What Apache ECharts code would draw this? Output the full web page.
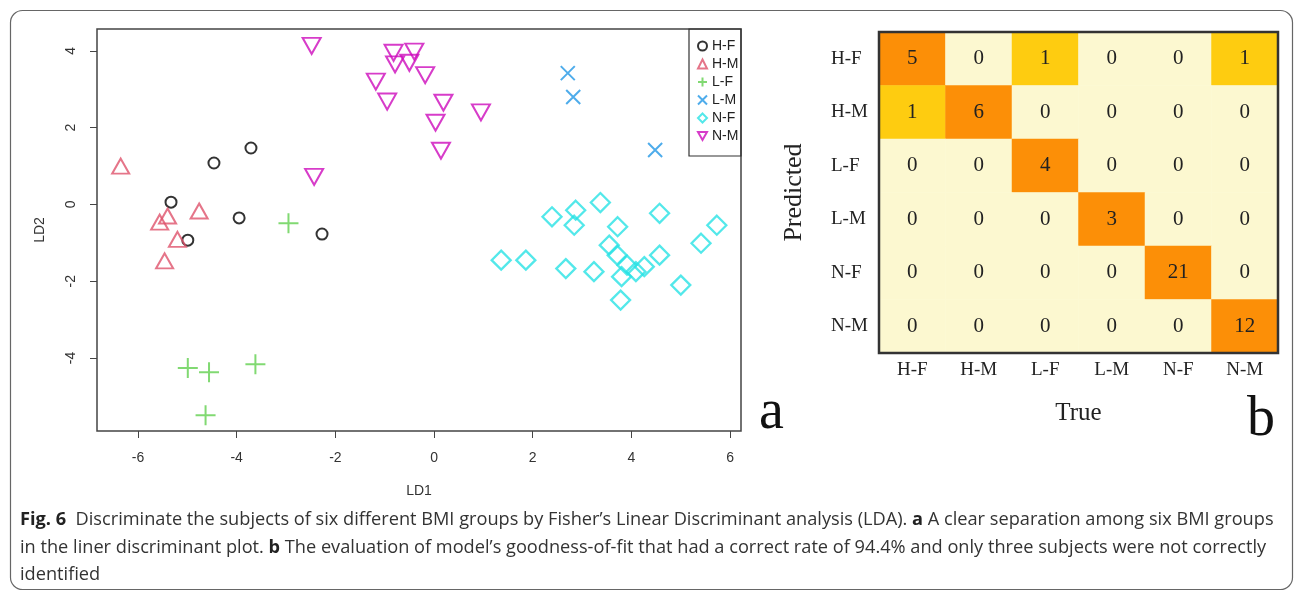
<!DOCTYPE html>
<html>
<head>
<meta charset="utf-8">
<script src="https://cdn.jsdelivr.net/npm/echarts@6/dist/echarts.min.js"></script>
<style>
  html, body { margin: 0; padding: 0; background: #fff; }
  #fig { width: 1295px; height: 599px; }
</style>
</head>
<body>
<div id="fig"></div>
<script>
// groups (BMI level - sex)
var groups = ['H-F', 'H-M', 'L-F', 'L-M', 'N-F', 'N-M'];

// LDA scores [LD1, LD2]
var hfPts = [[-3.71, 1.47], [-4.46, 1.08], [-5.33, 0.06], [-3.95, -0.35], [-4.99, -0.93], [-2.27, -0.77]];
var hmPts = [[-6.35, 1.00], [-4.76, -0.17], [-5.40, -0.30], [-5.56, -0.46], [-5.20, -0.91], [-5.46, -1.47]];
var lfPts = [[-2.95, -0.49], [-4.99, -4.26], [-4.56, -4.37], [-3.62, -4.16], [-4.63, -5.49]];
var lmPts = [[2.71, 3.42], [2.82, 2.80], [4.48, 1.42]];
var nfPts = [[1.36, -1.45], [1.86, -1.45], [2.39, -0.32], [2.87, -0.15], [2.84, -0.54], [3.37, 0.05],
             [3.72, -0.58], [4.57, -0.23], [5.73, -0.54], [5.41, -1.01], [3.55, -1.06], [3.71, -1.32],
             [4.57, -1.32], [3.91, -1.58], [4.26, -1.62], [4.09, -1.75], [3.80, -1.88], [2.67, -1.67],
             [3.24, -1.75], [5.00, -2.10], [3.78, -2.49]];
var nmPts = [[-2.48, 4.13], [-0.82, 3.95], [-0.40, 3.98], [-0.79, 3.65], [-0.50, 3.69], [-0.18, 3.37],
             [-1.18, 3.20], [-0.95, 2.68], [0.19, 2.65], [0.95, 2.40], [0.03, 2.13], [0.14, 1.40],
             [-2.43, 0.72]];

var ld1Ticks = [-6, -4, -2, 0, 2, 4, 6];
var ld2Ticks = [-4, -2, 0, 2, 4];

// panel b: rows = predicted, columns = true
var confusion = [
    [5, 0, 1, 0, 0, 1],
    [1, 6, 0, 0, 0, 0],
    [0, 0, 4, 0, 0, 0],
    [0, 0, 0, 3, 0, 0],
    [0, 0, 0, 0, 21, 0],
    [0, 0, 0, 0, 0, 12]
];

var chart = echarts.init(document.getElementById('fig'));

var heatData = [];
for (var i = 0; i < confusion.length; i++) {
    for (var j = 0; j < confusion[i].length; j++) {
        heatData.push([j, i, confusion[i][j]]);
    }
}

var sans = 'Liberation Sans';
var serif = 'Liberation Serif';
var capFont = 18.2;

function pointSeries(name, data, symbol, size, color, bw) {
    return {
        name: name,
        type: 'scatter',
        xAxisIndex: 0,
        yAxisIndex: 0,
        data: data,
        symbol: symbol,
        symbolSize: size,
        itemStyle: { color: 'rgba(0,0,0,0)', borderColor: color, borderWidth: bw },
        emphasis: { disabled: true }
    };
}

var option = {
    animation: false,
    textStyle: { fontFamily: sans },
    grid: [
        { left: 97, top: 29, width: 644, height: 402, show: true, borderColor: '#444', borderWidth: 1.5 },
        { left: 879, top: 32, width: 399, height: 321 }
    ],
    xAxis: [{
        gridIndex: 0, type: 'value', min: -6.83, max: 6.22,
        name: 'LD1', nameLocation: 'middle', nameGap: 53,
        nameTextStyle: { fontSize: 14, color: '#333' },
        axisLine: { show: false, onZero: false },
        splitLine: { show: false },
        axisTick: { show: true, length: 7, lineStyle: { color: '#444' }, customValues: ld1Ticks },
        axisLabel: { fontSize: 14, color: '#333', margin: 20, customValues: ld1Ticks }
    }, {
        gridIndex: 1, type: 'category', data: groups,
        name: 'True', nameLocation: 'middle', nameGap: 48,
        nameTextStyle: { fontFamily: serif, fontSize: 25, color: '#222' },
        axisLine: { show: false }, axisTick: { show: false },
        axisLabel: { fontFamily: serif, fontSize: 19, color: '#222', margin: 8 }
    }],
    yAxis: [{
        gridIndex: 0, type: 'value', min: -5.9, max: 4.57,
        name: 'LD2', nameLocation: 'middle', nameGap: 50, nameRotate: 90,
        nameTextStyle: { fontSize: 14, color: '#333' },
        axisLine: { show: false, onZero: false },
        splitLine: { show: false },
        axisTick: { show: true, length: 7, lineStyle: { color: '#444' }, customValues: ld2Ticks },
        axisLabel: { fontSize: 14, color: '#333', margin: 19, rotate: 90, customValues: ld2Ticks }
    }, {
        gridIndex: 1, type: 'category', data: groups, inverse: true,
        name: 'Predicted', nameLocation: 'middle', nameGap: 72, nameRotate: 90,
        nameTextStyle: { fontFamily: serif, fontSize: 26, color: '#222' },
        axisLine: { show: false }, axisTick: { show: false },
        axisLabel: { fontFamily: serif, fontSize: 19, color: '#222', align: 'left', margin: 48 }
    }],
    legend: {
        data: groups,
        orient: 'vertical',
        left: 697, top: 39,
        itemWidth: 9, itemHeight: 9, itemGap: 4,
        padding: 0,
        textStyle: { fontSize: 14, color: '#222', lineHeight: 14 }
    },
    visualMap: {
        show: false,
        type: 'piecewise',
        seriesIndex: 6,
        dimension: 2,
        pieces: [
            { value: 0, color: '#FCF8D0' },
            { value: 1, color: '#FECC10' },
            { min: 2, color: '#FC8F07' }
        ]
    },
    series: [
        pointSeries('H-F', hfPts, 'circle', 11, '#000000', 2),
        pointSeries('H-M', hmPts, 'triangle', [17, 15], '#DF536B', 2),
        pointSeries('L-F', lfPts, 'path://M5,0L5,10M0,5L10,5', 20, '#61D04F', 2),
        pointSeries('L-M', lmPts, 'path://M0,0L10,10M10,0L0,10', 14, '#2297E6', 2),
        pointSeries('N-F', nfPts, 'diamond', [19, 19], '#28E2E5', 2.3),
        pointSeries('N-M', nmPts, 'path://M0,0L10,0L5,9Z', [18, 16], '#CD0BBC', 2),
        {
            type: 'heatmap',
            xAxisIndex: 1,
            yAxisIndex: 1,
            data: heatData,
            label: { show: true, fontFamily: serif, fontSize: 21, color: '#222' },
            emphasis: { disabled: true }
        }
    ],
    graphic: [
        {
            type: 'rect', z: 100, silent: true,
            shape: { x: 10.5, y: 10.5, width: 1282, height: 579, r: 12 },
            style: { fill: 'none', stroke: '#666', lineWidth: 1.2 }
        },
        {
            type: 'rect', z: 100, silent: true,
            shape: { x: 689, y: 29, width: 52, height: 127 },
            style: { fill: 'none', stroke: '#333', lineWidth: 1.2 }
        },
        {
            type: 'rect', z: 100, silent: true,
            shape: { x: 879, y: 32, width: 399, height: 321 },
            style: { fill: 'none', stroke: '#333', lineWidth: 2.5 }
        },
        {
            type: 'text', z: 100, left: 759, top: 385,
            style: { text: 'a', font: '56px "Liberation Serif"', fill: '#111' }
        },
        {
            type: 'text', z: 100, left: 1247, top: 392,
            style: { text: 'b', font: '56px "Liberation Serif"', fill: '#111' }
        },
        {
            type: 'text', z: 100, left: 20, top: 511,
            style: {
                text: '{b|Fig. 6}  Discriminate the subjects of six different BMI groups by Fisher’s Linear Discriminant analysis (LDA). {b|a} A clear separation among six BMI groups',
                fontFamily: 'Open Sans', fontSize: capFont, fill: '#333',
                rich: { b: { fontFamily: 'Open Sans', fontSize: capFont, fontWeight: 'bold', fill: '#222' } }
            }
        },
        {
            type: 'text', z: 100, left: 20, top: 539,
            style: {
                text: 'in the liner discriminant plot. {b|b} The evaluation of model’s goodness-of-fit that had a correct rate of 94.4% and only three subjects were not correctly',
                fontFamily: 'Open Sans', fontSize: capFont, fill: '#333',
                rich: { b: { fontFamily: 'Open Sans', fontSize: capFont, fontWeight: 'bold', fill: '#222' } }
            }
        },
        {
            type: 'text', z: 100, left: 20, top: 566,
            style: { text: 'identified', fontFamily: 'Open Sans', fontSize: capFont, fill: '#333' }
        }
    ]
};

chart.setOption(option);
</script>
</body>
</html>
